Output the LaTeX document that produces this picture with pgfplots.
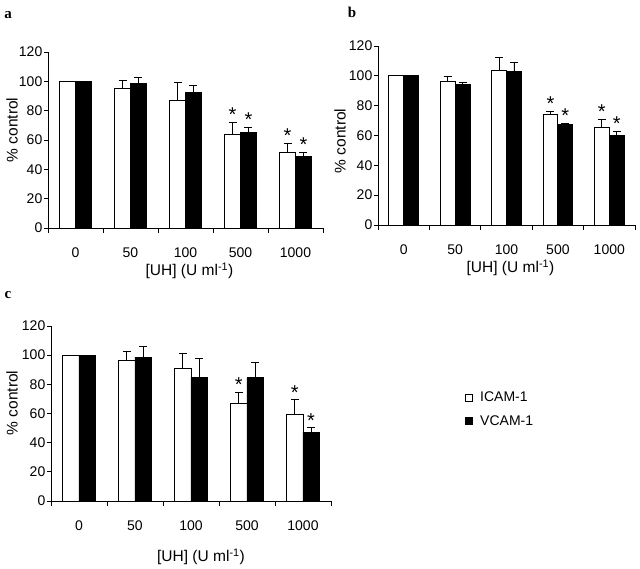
\documentclass[border=0pt]{standalone}
\usepackage{pgfplots}
\pgfplotsset{compat=1.18}
\usepackage{fontspec}
\setmainfont{Liberation Sans}
\newfontfamily\serifb{Liberation Serif}
\newcommand{\f}{\fontsize{14bp}{16bp}\selectfont}
\newcommand{\fl}{\fontsize{15.5bp}{17bp}\selectfont}

\pgfplotsset{
  panel/.style={
    scale only axis,
    xmin=-0.5, xmax=4.5, ymin=0, ymax=120,
    axis lines*=left,
    axis line style={-, line width=0.9bp},
    xtick={0,1,2,3,4},
    xticklabels={0,50,100,500,1000},
    major x tick style={draw=none},
    minor xtick={-0.5,0.5,1.5,2.5,3.5,4.5},
    minor tick length=5bp,
    ytick={0,20,40,60,80,100,120},
    major tick length=4bp,
    tick align=outside,
    tick style={line width=0.9bp, black},
    /pgf/number format/assume math mode=true,
    tick label style={font=\f},
    label style={font=\fl},
    legend style={font=\f},
    xticklabel style={inner sep=0pt, yshift=-16bp},
    yticklabel style={inner sep=0pt, xshift=-1.5bp},
    ylabel={\% control},
    xlabel={[UH] (U ml\textsuperscript{-1})},
    clip=false,
  },
  wbar/.style={ybar, bar width=0.29, bar shift=0pt, fill=white, draw=black, line width=0.9bp,
    error bars/y dir=plus, error bars/y explicit,
    error bars/error bar style={line width=0.9bp, black},
    error bars/error mark options={black, mark size=4bp, line width=0.9bp, rotate=90}},
  bbar/.style={ybar, bar width=0.29, bar shift=0pt, fill=black, draw=black, line width=0.9bp,
    error bars/y dir=plus, error bars/y explicit,
    error bars/error bar style={line width=0.9bp, black},
    error bars/error mark options={black, mark size=4bp, line width=0.9bp, rotate=90}},
  star/.style={ybar, bar width=0.29, bar shift=0pt, draw=none, fill=none, forget plot,
    nodes near coords={\fontsize{20bp}{20bp}\selectfont *},
    every node near coord/.append style={text=black, inner sep=0.5bp, anchor=south}},
}

\begin{document}
\begin{tikzpicture}
\path[use as bounding box] (0,0) rectangle (640bp,-569bp);

\node[font=\serifb\bfseries\fontsize{15bp}{15bp}\selectfont] at (8bp,-15bp) {a};
\node[font=\serifb\bfseries\fontsize{15bp}{15bp}\selectfont] at (352bp,-12bp) {b};
\node[font=\serifb\bfseries\fontsize{15bp}{15bp}\selectfont] at (8bp,-295bp) {c};

% Panel a
\begin{axis}[panel, at={(48bp,-228bp)}, anchor=south west, width=275bp, height=176bp,
  xlabel style={at={(axis description cs:0.5,0)}, anchor=center, yshift=-43bp, xshift=4bp},
  ylabel style={at={(axis description cs:0,0.557)}, anchor=center, yshift=36bp}]
\addplot[wbar] coordinates {(-0.145,100) +- (0,0) (0.855,95.4) +- (0,5.3) (1.855,87.2) +- (0,12.1) (2.855,63.9) +- (0,8.2) (3.855,51.5) +- (0,6.2)};
\addplot[bbar] coordinates {(0.145,100) +- (0,0) (1.145,98.6) +- (0,3.9) (2.145,92.5) +- (0,5.0) (3.145,65.0) +- (0,3.5) (4.145,48.5) +- (0,3.0)};
\addplot[star] coordinates {(2.855,72.1) (3.855,57.7)};
\addplot[star] coordinates {(3.145,68.5) (4.145,51.5)};
\end{axis}

% Panel b
\begin{axis}[panel, at={(378bp,-225bp)}, anchor=south west, width=257bp, height=179bp,
  xlabel style={at={(axis description cs:0.5,0)}, anchor=center, yshift=-43bp, xshift=4bp},
  ylabel style={at={(axis description cs:0,0.469)}, anchor=center, yshift=38bp}]
\addplot[wbar] coordinates {(-0.145,100) +- (0,0) (0.855,96.5) +- (0,3.1) (1.855,103.6) +- (0,8.4) (2.855,74.2) +- (0,2.2) (3.855,65.3) +- (0,5.5)};
\addplot[bbar] coordinates {(0.145,100) +- (0,0) (1.145,94.5) +- (0,1.1) (2.145,103.0) +- (0,5.7) (3.145,67.5) +- (0,0.5) (4.145,60.2) +- (0,2.8)};
\addplot[star] coordinates {(2.855,76.4) (3.855,70.8)};
\addplot[star] coordinates {(3.145,68.0) (4.145,63.0)};
\end{axis}

% Panel c
\begin{axis}[panel, at={(51bp,-501bp)}, anchor=south west, width=280bp, height=175bp,
  xlabel style={at={(axis description cs:0.5,0)}, anchor=center, yshift=-56bp, xshift=10bp},
  ylabel style={at={(axis description cs:0,0.56)}, anchor=center, yshift=39bp},
  legend style={at={(1.479,0.629)}, anchor=north west, draw=none, fill=none, inner sep=0pt,
    row sep=10bp, nodes={inner sep=1bp, anchor=west}},
  legend cell align=left]
\addplot[wbar, legend image code/.code={\draw[black, line width=0.9bp, fill=white] (0bp,-3.5bp) rectangle (7bp,3.5bp);}]
  coordinates {(-0.145,100) +- (0,0) (0.855,96.1) +- (0,6.6) (1.855,90.9) +- (0,10.0) (2.855,67.0) +- (0,7.3) (3.855,59.4) +- (0,9.9)};
\addlegendentry{\hspace{6bp}ICAM-1}
\addplot[bbar, legend image code/.code={\draw[black, line width=0.9bp, fill=black] (0bp,-3.5bp) rectangle (7bp,3.5bp);}]
  coordinates {(0.145,100) +- (0,0) (1.145,98.6) +- (0,7.6) (2.145,84.7) +- (0,13.3) (3.145,84.5) +- (0,10.2) (4.145,47.0) +- (0,3.2)};
\addlegendentry{\hspace{6bp}VCAM-1}
\addplot[star] coordinates {(2.855,74.3) (3.855,69.3)};
\addplot[star] coordinates {(4.145,50.2)};
\end{axis}
\end{tikzpicture}
\end{document}
